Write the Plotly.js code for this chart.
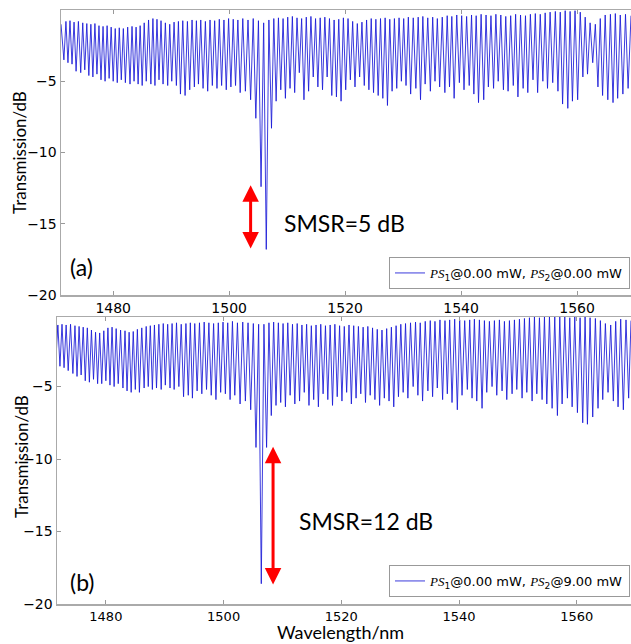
<!DOCTYPE html>
<html>
<head>
<meta charset="utf-8">
<script src="https://cdn.plot.ly/plotly-3.0.1.min.js"></script>
<style>html,body{margin:0;padding:0;background:#fff;}#chart{width:631px;height:644px;}</style>
</head>
<body>
<div id="chart"></div>
<script>
// ---- data ----
const specStartA = 1471.0, specEndA = 1569.3;
const specStartB = 1471.7, specEndB = 1569.2;

// dip wavelengths (nm), shared by both spectra
const dipWl = [1471.5,1472.2,1472.9,1473.6,1474.4,1475.1,1475.8,1476.5,1477.2,1477.9,
 1478.6,1479.3,1480.0,1480.7,1481.4,1482.1,1482.9,1483.6,1484.3,1485.0,
 1485.7,1486.5,1487.2,1487.9,1488.6,1489.4,
 1490.1,1490.9,1491.6,1492.4,1493.2,1494.0,1494.7,1495.5,1496.3,1497.1,
 1497.9,1498.7,1499.5,1500.3,1501.1,1501.9,1502.8,
 1503.7,1504.6,1505.5,1506.4,1507.3,1508.1,
 1508.9,1509.7,1510.5,1511.3,1512.1,1512.9,1513.7,1514.5,1515.3,1516.1,
 1516.9,1517.7,1518.5,1519.3,1520.1,1520.9,1521.7,1522.5,1523.3,1524.1,
 1524.9,1525.7,1526.5,1527.3,1528.1,1528.9,1529.7,
 1530.5,1531.3,1532.2,1533.0,1533.8,1534.7,1535.5,1536.3,1537.2,1538.0,
 1538.8,1539.7,1540.5,1541.4,1542.2,1543.0,1543.9,1544.7,1545.6,1546.4,
 1547.3,1548.1,1549.0,1549.8,1550.7,1551.5,1552.4,1553.2,1554.1,1554.9,
 1555.8,1556.7,1557.5,1558.4,1559.2,1560.1,1561.0,1561.8,1562.7,1563.6,
 1564.4,1565.3,1566.2,1567.0,1567.9,1568.8];

// (a) PS1@0, PS2@0 : dip depth (dB)
const dipA = [-3.5,-3.7,-3.8,-4.3,-4.4,-4.2,-4.6,-4.7,-4.5,-4.9,
 -5.0,-4.8,-5.0,-5.1,-4.9,-5.1,-5.2,-5.0,-5.2,-5.3,
 -5.0,-5.2,-5.3,-4.9,-5.2,-5.3,
 -5.0,-5.3,-5.9,-6.0,-5.6,-5.4,-5.2,-5.5,-5.7,-5.3,
 -5.5,-5.3,-5.6,-5.4,-5.3,-5.8,-5.7,
 -6.3,-7.6,-12.4,-16.8,-8.3,-6.4,
 -5.6,-6.2,-5.5,-5.8,-4.4,-6.3,-5.7,-4.7,-5.4,-5.6,
 -4.7,-6.0,-6.1,-6.4,-5.6,-4.9,-5.4,-4.7,-5.3,-5.6,
 -5.8,-6.0,-6.2,-6.7,-5.7,-5.5,-5.0,
 -5.3,-5.9,-5.5,-6.3,-5.2,-5.7,-5.0,-5.4,-5.8,-5.4,
 -6.2,-5.1,-5.6,-5.3,-5.9,-6.5,-6.3,-5.4,-5.5,-5.0,
 -5.6,-5.7,-5.3,-6.1,-5.5,-5.8,-4.9,-5.8,-5.0,-5.5,
 -5.1,-5.7,-6.6,-6.9,-6.4,-6.3,-4.7,-4.5,-3.7,-5.4,
 -6.0,-6.3,-6.5,-6.2,-5.9,-5.5];
// (a) maxima between dips (dB): before first dip ... after last dip
const topA = [-1.0,-0.8,-0.75,-0.85,-0.8,-0.9,-0.95,-1.0,-0.95,-1.1,
 -1.15,-1.1,-1.2,-1.3,-1.25,-1.3,-1.2,-1.15,-1.2,-1.1,
 -0.9,-0.7,-0.6,-0.65,-0.75,-0.9,-1.0,-0.85,-0.8,-0.75,
 -0.8,-0.7,-0.75,-0.7,-0.8,-0.7,-0.75,-0.65,-0.7,-0.6,
 -0.65,-0.7,-0.6,-0.7,-0.6,-0.75,-0.9,-0.7,-0.6,-0.55,
 -0.6,-0.5,-0.45,-0.55,-0.6,-0.5,-0.45,-0.6,-0.55,-0.5,
 -0.6,-0.7,-0.65,-0.55,-0.6,-0.8,-0.95,-0.85,-0.7,-0.6,
 -0.65,-0.6,-0.55,-0.65,-0.6,-0.55,-0.6,-0.5,-0.55,-0.5,
 -0.45,-0.55,-0.5,-0.6,-0.5,-0.4,-0.45,-0.35,-0.4,-0.45,
 -0.35,-0.4,-0.3,-0.35,-0.4,-0.3,-0.35,-0.45,-0.4,-0.3,
 -0.35,-0.4,-0.3,-0.25,-0.3,-0.2,-0.15,-0.1,-0.15,-0.05,
 -0.1,-0.05,-0.15,-0.5,-0.9,-1.0,-0.6,-0.35,-0.3,-0.25,
 -0.35,-0.3,-0.4];

// (b) PS1@0, PS2@9 mW : dip depth (dB)
const dipB = [-3.2,-3.6,-3.7,-3.9,-4.1,-4.3,-4.2,-4.6,-4.7,-4.5,
 -4.8,-4.8,-4.6,-4.9,-5.0,-4.8,-5.1,-5.3,-5.4,-5.2,
 -5.4,-5.1,-5.0,-5.2,-5.1,-5.2,
 -4.9,-5.1,-5.2,-5.0,-5.7,-5.6,-5.8,-5.3,-5.5,-5.2,
 -5.6,-5.9,-5.4,-5.5,-5.9,-5.6,-6.2,
 -6.0,-6.6,-9.2,-18.6,-9.2,-7.0,
 -6.3,-6.1,-6.4,-5.6,-6.2,-6.0,-5.4,-6.3,-5.9,-6.4,
 -5.5,-5.9,-6.3,-5.7,-6.0,-5.4,-6.2,-5.8,-5.5,-6.1,
 -5.6,-5.9,-6.3,-5.8,-6.0,-6.4,-5.7,
 -5.4,-5.8,-5.0,-5.6,-6.0,-5.3,-5.7,-5.1,-5.9,-5.5,
 -6.1,-6.6,-5.6,-5.2,-5.8,-6.0,-6.5,-5.4,-5.0,-5.6,
 -5.3,-5.9,-5.5,-5.2,-5.8,-5.4,-6.0,-5.5,-5.9,-6.2,
 -6.5,-7.0,-6.2,-5.8,-6.4,-6.8,-7.5,-7.6,-7.1,-6.5,
 -5.9,-5.4,-6.0,-6.4,-6.6,-5.8];
const topB = [-0.8,-0.75,-0.7,-0.75,-0.7,-0.8,-0.85,-0.9,-0.95,-1.1,
 -1.25,-1.3,-1.15,-0.95,-0.9,-1.0,-1.1,-1.15,-1.25,-1.2,
 -1.05,-0.95,-0.85,-0.8,-0.75,-0.7,-0.65,-0.7,-0.65,-0.6,
 -0.7,-0.65,-0.6,-0.65,-0.6,-0.55,-0.6,-0.65,-0.6,-0.55,
 -0.6,-0.5,-0.6,-0.55,-0.6,-0.65,-0.7,-0.7,-0.6,-0.55,
 -0.6,-0.65,-0.6,-0.7,-0.65,-0.75,-0.7,-0.8,-0.75,-0.7,
 -0.8,-0.75,-0.7,-0.8,-0.85,-0.75,-0.8,-0.85,-0.9,-0.85,
 -0.95,-1.05,-1.1,-1.0,-0.9,-0.8,-0.7,-0.65,-0.6,-0.55,
 -0.6,-0.5,-0.45,-0.5,-0.4,-0.45,-0.4,-0.35,-0.4,-0.45,
 -0.4,-0.35,-0.4,-0.45,-0.5,-0.45,-0.4,-0.5,-0.45,-0.4,
 -0.35,-0.3,-0.25,-0.2,-0.25,-0.2,-0.15,-0.2,-0.15,-0.2,
 -0.25,-0.2,-0.25,-0.2,-0.25,-0.3,-0.45,-0.65,-0.75,-0.5,
 -0.35,-0.4,-0.45];

const xTicks = [1480, 1500, 1520, 1540, 1560];
const yTicks = [-20, -15, -10, -5];
const legendA = '<span style="font-family:Liberation Serif;font-style:italic">PS</span><sub>1</sub>@0.00 mW, <span style="font-family:Liberation Serif;font-style:italic">PS</span><sub>2</sub>@0.00 mW';
const legendB = '<span style="font-family:Liberation Serif;font-style:italic">PS</span><sub>1</sub>@0.00 mW, <span style="font-family:Liberation Serif;font-style:italic">PS</span><sub>2</sub>@9.00 mW';
// SMSR arrows: [x, yTop, yBottom]
const arrowA = [1503.7, -12.3, -16.85];
const arrowB = [1508.4, -9.15, -18.75];
const labelA = 'SMSR=5 dB', labelB = 'SMSR=12 dB';

// ---- build polyline: max, dip, max, dip ... ----
function spectrum(start, end, dips, tops) {
  const xs = [start], ys = [tops[0]];
  for (let i = 0; i < dipWl.length; i++) {
    xs.push(dipWl[i]); ys.push(dips[i]);
    xs.push(i < dipWl.length - 1 ? (dipWl[i] + dipWl[i + 1]) / 2 : end);
    ys.push(tops[i + 1]);
  }
  return {xs, ys};
}
const sA = spectrum(specStartA, specEndA, dipA, topA);
const sB = spectrum(specStartB, specEndB, dipB, topB);

const W = 631, H = 644;
const lineStyle = {color: 'rgba(25,25,215,0.85)', width: 1, shape: 'linear'};
const traces = [
  {x: sA.xs, y: sA.ys, type: 'scatter', mode: 'lines', line: lineStyle, name: legendA, xaxis: 'x', yaxis: 'y', legend: 'legend'},
  {x: sB.xs, y: sB.ys, type: 'scatter', mode: 'lines', line: lineStyle, name: legendB, xaxis: 'x2', yaxis: 'y2', legend: 'legend2'}
];

const tickFont = {family: 'DejaVu Sans', size: 14, color: '#000'};
function xax(dom, rng, anchor, fsize) {
  return {domain: dom, range: rng, anchor: anchor, tickvals: xTicks, ticks: 'inside', ticklen: 4,
    tickcolor: '#999', showline: true, linecolor: '#aaa', linewidth: 1.5, mirror: 'ticks',
    showgrid: false, zeroline: false, tickfont: {family: 'DejaVu Sans', size: fsize, color: '#000'}, ticklabelstandoff: 0};
}
function yax(dom, rng, anchor) {
  return {domain: dom, range: rng, anchor: anchor, tickvals: yTicks, ticks: 'inside', ticklen: 4,
    tickcolor: '#999', showline: true, linecolor: '#aaa', linewidth: 1.5, mirror: false,
    showgrid: false, zeroline: false, tickfont: tickFont, ticklabelstandoff: 0};
}
const bigFont = {family: 'Lato', size: 23, color: '#000'};
const labFont = {family: 'Lato', size: 17, color: '#000'};
function arrow(xr, yr, a) {
  return {xref: xr, yref: yr, axref: xr, ayref: yr, x: a[0], y: a[1], ax: a[0], ay: a[2],
    text: '', showarrow: true, arrowside: 'end+start', arrowhead: 2, arrowsize: 1.1, arrowwidth: 3,
    arrowcolor: '#ff0000', standoff: 0, startstandoff: 0};
}
const layout = {
  width: W, height: H, margin: {l: 0, r: 0, t: 0, b: 0},
  paper_bgcolor: '#fff', plot_bgcolor: '#fff', showlegend: true,
  xaxis: xax([61 / W, 1], [specStartA, specEndA], 'y', 14),
  yaxis: yax([(H - 295) / H, (H - 10) / H], [-20, 0], 'x'),
  xaxis2: xax([57 / W, 1], [specStartB, specEndB], 'y2', 13),
  yaxis2: yax([(H - 604) / H, (H - 317) / H], [-20, -0.2], 'x2'),
  legend: {x: 630 / W, xanchor: 'right', y: (H - 289) / H, yanchor: 'bottom', bgcolor: '#fff',
    bordercolor: '#999', borderwidth: 1, font: {family: 'DejaVu Sans', size: 13, color: '#000'}},
  legend2: {x: 630 / W, xanchor: 'right', y: (H - 597) / H, yanchor: 'bottom', bgcolor: '#fff',
    bordercolor: '#999', borderwidth: 1, font: {family: 'DejaVu Sans', size: 13, color: '#000'}},
  annotations: [
    arrow('x', 'y', arrowA),
    arrow('x2', 'y2', arrowB),
    {xref: 'x', yref: 'y', x: 1509.1, y: -14.95, text: labelA, showarrow: false, xanchor: 'left', yanchor: 'middle', font: bigFont},
    {xref: 'x2', yref: 'y2', x: 1512.4, y: -14.3, text: labelB, showarrow: false, xanchor: 'left', yanchor: 'middle', font: bigFont},
    {xref: 'x', yref: 'y', x: 1472.2, y: -18.0, text: '(a)', showarrow: false, xanchor: 'left', yanchor: 'middle', font: bigFont},
    {xref: 'x2', yref: 'y2', x: 1473.6, y: -18.5, text: '(b)', showarrow: false, xanchor: 'left', yanchor: 'middle', font: bigFont},
    {xref: 'paper', yref: 'paper', x: 20 / W, y: (H - 153) / H, text: 'Transmission/dB', textangle: -90, showarrow: false, xanchor: 'center', yanchor: 'middle', font: labFont},
    {xref: 'paper', yref: 'paper', x: 21 / W, y: (H - 457) / H, text: 'Transmission/dB', textangle: -90, showarrow: false, xanchor: 'center', yanchor: 'middle', font: labFont},
    {xref: 'paper', yref: 'paper', x: 340.5 / W, y: (H - 632) / H, text: 'Wavelength/nm', showarrow: false, xanchor: 'center', yanchor: 'middle', font: {family: 'Lato', size: 18, color: '#000'}}
  ]
};
Plotly.newPlot('chart', traces, layout, {staticPlot: true, displayModeBar: false});
</script>
</body>
</html>
